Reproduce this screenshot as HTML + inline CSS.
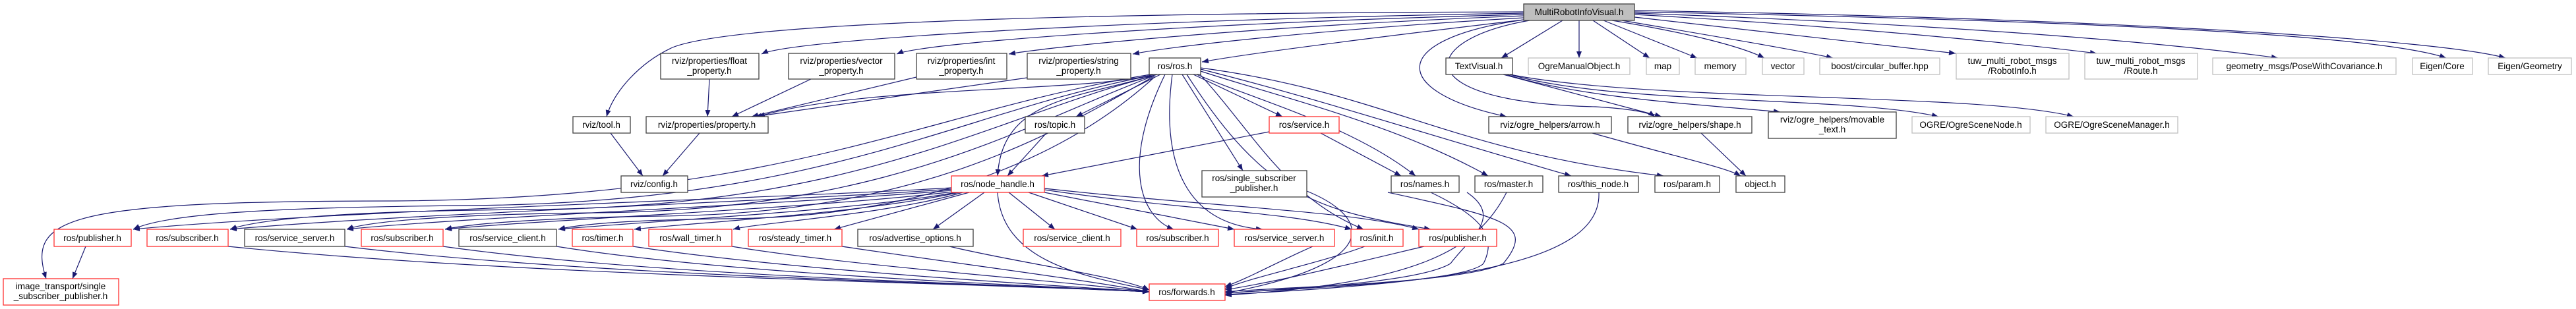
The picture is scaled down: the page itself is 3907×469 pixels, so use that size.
<!DOCTYPE html>
<html><head><meta charset="utf-8"><style>
html,body{margin:0;padding:0;background:#fff;}
svg{display:block}
text{font-family:"Liberation Sans","DejaVu Sans",sans-serif;font-size:13.5px;fill:#000;text-anchor:middle}
.e{fill:none;stroke:#191970;stroke-width:1.2;marker-end:url(#a)}
.b{fill:#fff;stroke:#404040;stroke-width:1.3}
.r{fill:#fff;stroke:#ff3030;stroke-width:1.3}
.g{fill:#fff;stroke:#bfbfbf;stroke-width:1.3}
</style></head><body>
<svg width="3907" height="469" viewBox="0 0 3907 469" xmlns="http://www.w3.org/2000/svg">
<defs><marker id="a" markerUnits="userSpaceOnUse" markerWidth="11" markerHeight="8" refX="10" refY="4" orient="auto"><path d="M0,0 L10,4 L0,8 z" fill="#191970"/></marker></defs>
<g>
<!-- from main -->
<path class="e" d="M2311,20 C1700,30 1200,60 1155,82"/>
<path class="e" d="M2311,22 C1800,35 1400,65 1360,82"/>
<path class="e" d="M2311,24 C1900,40 1600,70 1530,82"/>
<path class="e" d="M2311,27 C2000,45 1780,70 1718,82"/>
<path class="e" d="M2311,30 C2100,55 1900,80 1823,94"/>
<path class="e" d="M2311,18 C1500,20 1100,40 1020,72 C970,95 930,140 920,177"/>
<path class="e" d="M2370,31 L2277,88"/>
<path class="e" d="M2395,31 L2395,88"/>
<path class="e" d="M2416,31 L2502,88"/>
<path class="e" d="M2432,31 L2574,88"/>
<path class="e" d="M2445,31 C2560,50 2640,70 2676,88"/>
<path class="e" d="M2460,31 C2600,55 2720,75 2780,88"/>
<path class="e" d="M2479,26 C2700,50 2880,70 2966,81"/>
<path class="e" d="M2479,22 C2800,40 3050,65 3180,81"/>
<path class="e" d="M2479,20 C2900,35 3250,60 3455,88"/>
<path class="e" d="M2479,18 C3100,30 3600,50 3710,88"/>
<path class="e" d="M2479,16 C3200,28 3700,60 3800,88"/>
<path class="e" d="M2311,30 C2100,60 2110,140 2285,177"/>
<path class="e" d="M2320,31 C2150,60 2130,155 2420,162 C2470,165 2500,170 2510,177"/>
<!-- TextVisual -->
<path class="e" d="M2280,113 L2520,177"/>
<path class="e" d="M2285,113 C2400,150 2600,160 2700,170"/>
<path class="e" d="M2290,113 C2450,160 2800,145 2940,177"/>
<path class="e" d="M2290,113 C2500,155 3000,140 3145,177"/>
<!-- properties -->
<path class="e" d="M1076,120 L1073,177"/>
<path class="e" d="M1230,120 L1110,177"/>
<path class="e" d="M1390,117 L1140,177"/>
<path class="e" d="M1558,118 L1145,177"/>
<path class="e" d="M1750,113 C1650,140 1300,130 1150,177"/>
<path class="e" d="M926,202 L975,267"/>
<path class="e" d="M1061,202 L1005,267"/>
<path class="e" d="M2415,202 C2550,240 2620,255 2640,267"/>
<path class="e" d="M2580,202 L2648,267"/>
<!-- ros.h -->
<path class="e" d="M1760,113 L1632,177"/>
<path class="e" d="M1755,113 C1630,150 1520,150 1513,267"/>
<path class="e" d="M1587,202 L1528,267"/>
<path class="e" d="M1810,113 L1945,177"/>
<path class="e" d="M1925,200 L1580,267"/>
<path class="e" d="M1793,113 L1885,259"/>
<path class="e" d="M1815,113 C1900,150 2050,190 2147,267"/>
<path class="e" d="M2003,202 L2125,267"/>
<path class="e" d="M1821,108 C1950,150 2120,190 2257,267"/>
<path class="e" d="M1821,105 C2000,150 2150,200 2383,267"/>
<path class="e" d="M1821,103 C2100,140 2200,230 2523,267"/>
<path class="e" d="M1820,113 C1900,200 1950,300 2068,348"/>
<path class="e" d="M1800,113 C1920,300 2000,320 2170,348"/>
<path class="e" d="M1778,113 C1760,250 1800,340 1915,348"/>
<path class="e" d="M1767,113 C1700,250 1730,330 1780,348"/>
<path class="e" d="M1745,113 C1400,170 1200,300 600,305 C100,305 40,330 70,423"/>
<path class="e" d="M1745,115 C1450,170 1250,310 700,312 C400,315 250,325 202,348"/>
<path class="e" d="M1746,116 C1500,180 1300,315 800,318 C550,320 400,330 349,348"/>
<path class="e" d="M1748,116 C1550,190 1350,320 900,323 C700,325 560,335 526,348"/>
<path class="e" d="M1750,116 C1600,200 1400,325 1000,328 C850,330 720,338 675,348"/>
<path class="e" d="M1752,116 C1650,210 1450,330 1100,332 C950,334 880,340 847,348"/>
<!-- node_handle -->
<path class="e" d="M1443,285 C1200,300 500,320 202,348"/>
<path class="e" d="M1443,287 C1200,305 600,325 349,348"/>
<path class="e" d="M1443,289 C1200,310 700,330 526,348"/>
<path class="e" d="M1445,291 C1250,315 800,335 675,348"/>
<path class="e" d="M1450,292 C1300,320 950,338 847,348"/>
<path class="e" d="M1455,292 C1300,325 1050,338 962,348"/>
<path class="e" d="M1460,292 C1350,325 1150,338 1112,348"/>
<path class="e" d="M1470,292 L1265,348"/>
<path class="e" d="M1493,292 L1415,348"/>
<path class="e" d="M1530,292 L1600,348"/>
<path class="e" d="M1560,292 L1725,348"/>
<path class="e" d="M1584,292 L1872,348"/>
<path class="e" d="M1584,288 C1800,320 1950,320 2050,348"/>
<path class="e" d="M1584,286 C1850,315 2050,320 2152,348"/>
<path class="e" d="M1513,292 C1520,400 1650,420 1743,440"/>
<!-- row4 to forwards -->
<path class="e" d="M346,374 C800,420 1500,430 1743,443"/>
<path class="e" d="M523,374 C900,420 1500,430 1743,443"/>
<path class="e" d="M672,374 C1000,420 1500,430 1743,443"/>
<path class="e" d="M844,374 C1100,415 1500,430 1743,443"/>
<path class="e" d="M960,374 C1200,410 1550,430 1743,443"/>
<path class="e" d="M1110,374 C1300,405 1600,425 1743,443"/>
<path class="e" d="M1277,374 C1450,400 1650,425 1743,443"/>
<path class="e" d="M1440,374 C1550,400 1700,420 1743,440"/>
<path class="e" d="M2024,360 C1950,390 1900,420 1858,435"/>
<path class="e" d="M2070,374 C2000,400 1900,420 1858,438"/>
<path class="e" d="M2160,374 C2050,400 1950,425 1858,440"/>
<path class="e" d="M2105,292 C2280,330 2330,340 2280,400 C2220,430 1950,435 1858,443"/>
<path class="e" d="M2170,292 C2250,330 2270,360 2250,400 C2220,430 1950,438 1858,445"/>
<path class="e" d="M2225,292 C2280,330 2230,360 2200,400 C2150,430 1950,438 1858,445"/>
<path class="e" d="M2425,292 C2430,400 2200,430 1858,447"/>
<path class="e" d="M2285,292 C2240,380 2150,430 1858,448"/>
<path class="e" d="M1982,290 C2080,330 2100,400 1858,445"/>
<path class="e" d="M130,374 L110,423"/>
</g>
<g>
<rect x="2311" y="6" width="168" height="25" fill="#bfbfbf" stroke="#404040" stroke-width="1.3"/><text x="2395" y="23">MultiRobotInfoVisual.h</text>
<rect class="b" x="1002" y="81" width="149" height="39"/><text x="1076" y="97">rviz/properties/float</text><text x="1076" y="112">_property.h</text>
<rect class="b" x="1196" y="81" width="161" height="39"/><text x="1276" y="97">rviz/properties/vector</text><text x="1276" y="112">_property.h</text>
<rect class="b" x="1390" y="81" width="137" height="39"/><text x="1458" y="97">rviz/properties/int</text><text x="1458" y="112">_property.h</text>
<rect class="b" x="1558" y="81" width="157" height="39"/><text x="1636" y="97">rviz/properties/string</text><text x="1636" y="112">_property.h</text>
<rect class="b" x="1743" y="88" width="78" height="25"/><text x="1782" y="105">ros/ros.h</text>
<rect class="b" x="2193" y="88" width="101" height="25"/><text x="2243" y="105">TextVisual.h</text>
<rect class="g" x="2318" y="88" width="154" height="25"/><text x="2395" y="105">OgreManualObject.h</text>
<rect class="g" x="2497" y="88" width="50" height="25"/><text x="2522" y="105">map</text>
<rect class="g" x="2571" y="88" width="77" height="25"/><text x="2609" y="105">memory</text>
<rect class="g" x="2673" y="88" width="63" height="25"/><text x="2704" y="105">vector</text>
<rect class="g" x="2760" y="88" width="182" height="25"/><text x="2851" y="105">boost/circular_buffer.hpp</text>
<rect class="g" x="2967" y="81" width="171" height="39"/><text x="3052" y="97">tuw_multi_robot_msgs</text><text x="3052" y="112">/RobotInfo.h</text>
<rect class="g" x="3162" y="81" width="171" height="39"/><text x="3247" y="97">tuw_multi_robot_msgs</text><text x="3247" y="112">/Route.h</text>
<rect class="g" x="3356" y="88" width="278" height="25"/><text x="3495" y="105">geometry_msgs/PoseWithCovariance.h</text>
<rect class="g" x="3659" y="88" width="91" height="25"/><text x="3704" y="105">Eigen/Core</text>
<rect class="g" x="3774" y="88" width="126" height="25"/><text x="3837" y="105">Eigen/Geometry</text>

<rect class="b" x="869" y="177" width="87" height="25"/><text x="912" y="194">rviz/tool.h</text>
<rect class="b" x="980" y="177" width="185" height="25"/><text x="1072" y="194">rviz/properties/property.h</text>
<rect class="b" x="1555" y="177" width="90" height="25"/><text x="1600" y="194">ros/topic.h</text>
<rect class="r" x="1925" y="177" width="106" height="25"/><text x="1978" y="194">ros/service.h</text>
<rect class="b" x="2258" y="177" width="186" height="25"/><text x="2351" y="194">rviz/ogre_helpers/arrow.h</text>
<rect class="b" x="2469" y="177" width="188" height="25"/><text x="2563" y="194">rviz/ogre_helpers/shape.h</text>
<rect class="b" x="2682" y="170" width="194" height="40"/><text x="2779" y="186">rviz/ogre_helpers/movable</text><text x="2779" y="201">_text.h</text>
<rect class="g" x="2900" y="177" width="179" height="25"/><text x="2989" y="194">OGRE/OgreSceneNode.h</text>
<rect class="g" x="3103" y="177" width="200" height="25"/><text x="3203" y="194">OGRE/OgreSceneManager.h</text>

<rect class="b" x="942" y="267" width="101" height="25"/><text x="992" y="284">rviz/config.h</text>
<rect class="r" x="1443" y="267" width="141" height="25"/><text x="1513" y="284">ros/node_handle.h</text>
<rect class="b" x="1823" y="259" width="159" height="40"/><text x="1902" y="275">ros/single_subscriber</text><text x="1902" y="290">_publisher.h</text>
<rect class="b" x="2110" y="267" width="103" height="25"/><text x="2161" y="284">ros/names.h</text>
<rect class="b" x="2237" y="267" width="103" height="25"/><text x="2288" y="284">ros/master.h</text>
<rect class="b" x="2364" y="267" width="121" height="25"/><text x="2424" y="284">ros/this_node.h</text>
<rect class="b" x="2510" y="267" width="98" height="25"/><text x="2559" y="284">ros/param.h</text>
<rect class="b" x="2633" y="267" width="74" height="25"/><text x="2670" y="284">object.h</text>

<rect class="r" x="82" y="348" width="117" height="26"/><text x="140" y="366">ros/publisher.h</text>
<rect class="r" x="223" y="348" width="123" height="26"/><text x="284" y="366">ros/subscriber.h</text>
<rect class="b" x="371" y="348" width="152" height="26"/><text x="447" y="366">ros/service_server.h</text>
<rect class="r" x="548" y="348" width="124" height="26"/><text x="610" y="366">ros/subscriber.h</text>
<rect class="b" x="696" y="348" width="148" height="26"/><text x="770" y="366">ros/service_client.h</text>
<rect class="r" x="868" y="348" width="92" height="26"/><text x="914" y="366">ros/timer.h</text>
<rect class="r" x="984" y="348" width="126" height="26"/><text x="1047" y="366">ros/wall_timer.h</text>
<rect class="r" x="1135" y="348" width="142" height="26"/><text x="1206" y="366">ros/steady_timer.h</text>
<rect class="b" x="1301" y="348" width="175" height="26"/><text x="1388" y="366">ros/advertise_options.h</text>
<rect class="r" x="1552" y="348" width="148" height="26"/><text x="1626" y="366">ros/service_client.h</text>
<rect class="r" x="1724" y="348" width="124" height="26"/><text x="1786" y="366">ros/subscriber.h</text>
<rect class="r" x="1872" y="348" width="152" height="26"/><text x="1948" y="366">ros/service_server.h</text>
<rect class="r" x="2049" y="348" width="79" height="26"/><text x="2088" y="366">ros/init.h</text>
<rect class="r" x="2152" y="348" width="118" height="26"/><text x="2211" y="366">ros/publisher.h</text>

<rect class="r" x="5" y="423" width="175" height="40"/><text x="92" y="439">image_transport/single</text><text x="92" y="454">_subscriber_publisher.h</text>
<rect class="r" x="1743" y="431" width="115" height="25"/><text x="1800" y="448">ros/forwards.h</text>
</g>
</svg>
</body></html>
